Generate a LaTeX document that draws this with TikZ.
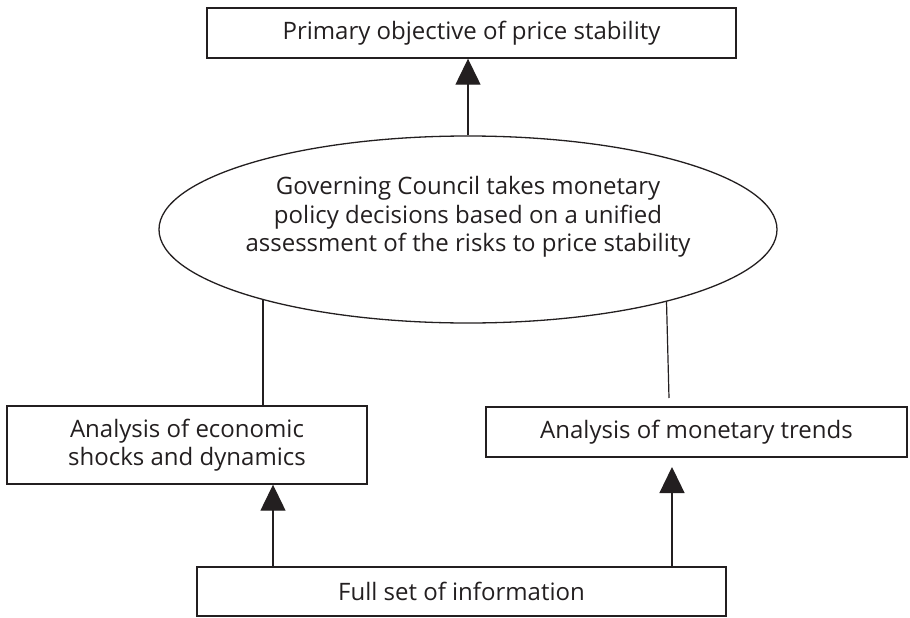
\documentclass[tikz,border=0pt]{standalone}
\usepackage{fontspec}
\setmainfont{Open Sans}
\usetikzlibrary{arrows.meta,shapes.geometric}
\definecolor{ink}{HTML}{231F20}
\tikzset{
  txt/.style={text=ink, align=center, font=\fontsize{24}{28.5}\selectfont},
  box/.style={txt, draw=ink, line width=1.4pt, rectangle, inner sep=0pt},
  oval/.style={draw=ink, line width=1.3pt, ellipse, inner sep=0pt},
  arr/.style={draw=ink, line width=1.3pt, -{Triangle[length=26pt,width=25pt]}},
  link/.style={draw=ink, line width=1.2pt}
}
\begin{document}
\begin{tikzpicture}[x=1pt,y=-1pt]
\useasboundingbox (0,0) rectangle (910,618);
\node[box, minimum width=529pt, minimum height=50pt] (top) at (471.5,33) {Primary objective of price stability};
\node[oval, minimum width=618pt, minimum height=187pt] (ell) at (468,229.5) {};
\node[txt] (elltext) at (468,217)
  {Governing Council takes monetary\\policy decisions based on a unified\\assessment of the risks to price stability};
\node[box, minimum width=360pt, minimum height=78pt] (left) at (187,445) {Analysis of economic\\shocks and dynamics};
\node[box, minimum width=421pt, minimum height=50pt] (right) at (696.5,432) {Analysis of monetary trends};
\node[box, minimum width=529pt, minimum height=49pt] (bot) at (461.5,591.5) {Full set of information};
\coordinate (ax) at (273,0);
\coordinate (rtop) at (669,398);
\coordinate (rtip) at (672,467);
\draw[arr] (ell.north) -- (ell.north |- top.south);
\draw[link] (ell.199.8) -- (ell.199.8 |- left.north);
\draw[link] (ell.340.5) -- (rtop);
\draw[arr] (ax |- bot.north) -- (ax |- left.south);
\draw[arr] (rtip |- bot.north) -- (rtip);
\end{tikzpicture}
\end{document}
